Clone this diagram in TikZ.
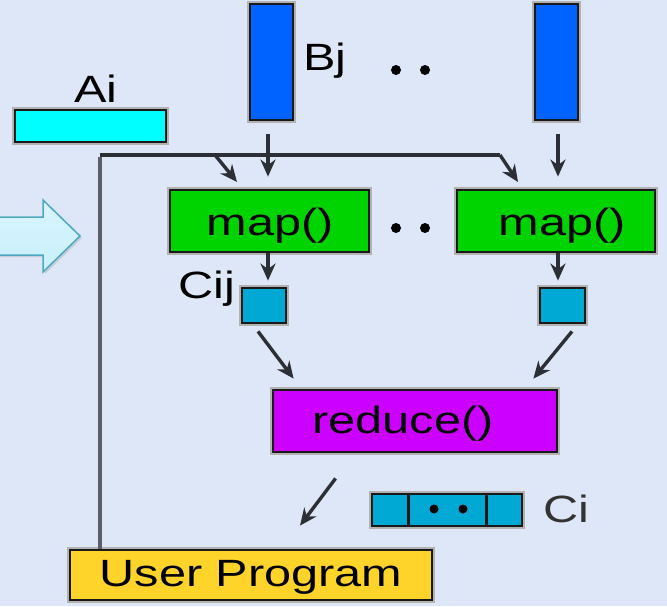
\documentclass[tikz,border=0pt]{standalone}
\usepackage{fontspec}
\newfontfamily\lbl{Liberation Sans}[FakeStretch=1.28]
\usetikzlibrary{arrows.meta,shadows}
\definecolor{bg}{RGB}{222,231,247}
\definecolor{barblue}{RGB}{0,98,255}
\definecolor{barcyan}{RGB}{0,255,255}
\definecolor{mapgreen}{RGB}{0,212,0}
\definecolor{cellblue}{RGB}{0,168,212}
\definecolor{redpurple}{RGB}{204,0,255}
\definecolor{progyellow}{RGB}{255,212,42}
\definecolor{wire}{RGB}{45,47,55}
\definecolor{bus}{RGB}{92,94,104}
\definecolor{hintfill}{RGB}{200,240,252}
\definecolor{hintedge}{RGB}{80,168,192}
\tikzset{
  box/.style={draw=#1, line width=2.8pt, inner sep=0pt,
    preaction={draw=black!30, line width=5.5pt}},
  box/.default={black!90},
  txt/.style={font=\lbl\fontsize{38}{40}\selectfont, inner sep=0pt},
  arr/.style={draw=wire, line width=3.4pt, -{Stealth[length=17pt,width=15pt]}},
  vbus/.style={draw=bus, line width=4.5pt},
  hbus/.style={draw=wire, line width=3.2pt},
  dotmark/.style={circle, fill=black, inner sep=0pt, minimum size=10pt}
}
\begin{document}
\begin{tikzpicture}[x=1pt,y=-1pt]
  % canvas
  \fill[bg] (0,0) rectangle (667,606);
  \useasboundingbox (0,0) rectangle (667,606);

  % hint arrow on the left edge
  \filldraw[draw=hintedge, line width=1.5pt, top color=hintfill!70!white, bottom color=hintfill,
    drop shadow={opacity=0.25, shadow xshift=2pt, shadow yshift=-2pt}]
    (-6,217) -- (43,217) -- (43,200) -- (80,236) -- (43,272) -- (43,255) -- (-6,255) -- cycle;

  % input blocks
  \node[box, fill=barblue, minimum width=43pt, minimum height=116pt] (bj1) at (271.5,62) {};
  \node[box, fill=barblue, minimum width=43pt, minimum height=116pt] (bj2) at (556.5,62) {};
  \node[box, fill=barcyan, minimum width=151pt, minimum height=32pt] (ai) at (90.5,126) {};
  \node[txt, anchor=base west] (bjl) at (303,70) {Bj};
  \node[txt, anchor=base west] (ail) at (74,102) {Ai};
  \node[dotmark] (d1) at (396,70) {};
  \node[dotmark] (d2) at (425,70) {};

  % map stage
  \node[box, fill=mapgreen, minimum width=199pt, minimum height=62pt] (map1) at (269.5,221) {};
  \node[box, fill=mapgreen, minimum width=198pt, minimum height=62pt] (map2) at (556,221) {};
  \node[txt, anchor=base] (map1t) at (270,235) {map()};
  \node[txt, anchor=base] (map2t) at (562,235) {map()};
  \node[dotmark] (d3) at (396,228) {};
  \node[dotmark] (d4) at (425,228) {};

  % partial results
  \node[box, fill=cellblue, minimum width=44pt, minimum height=35pt] (cij1) at (264,305.5) {};
  \node[box, fill=cellblue, minimum width=45pt, minimum height=35pt] (cij2) at (562.5,305.5) {};
  \node[txt, anchor=base west] (cijl) at (178,298) {Cij};

  % reduce stage
  \node[box, fill=redpurple, minimum width=284pt, minimum height=62pt] (red) at (415,421) {};
  \node[txt, anchor=base] (redt) at (403,433) {reduce()};

  % result row
  \node[box, fill=cellblue, minimum width=150pt, minimum height=32pt] (ci) at (447,510) {};
  \draw[black!90, line width=3pt] (408,494) -- (408,526) (486,494) -- (486,526);
  \node[dotmark, minimum size=9pt] (d5) at (434,509) {};
  \node[dotmark, minimum size=9pt] (d6) at (463,509) {};
  \node[txt, anchor=base west, text=black!80] (cil) at (543,522) {Ci};

  % user program
  \node[box, fill=progyellow, minimum width=362pt, minimum height=50pt] (up) at (251,575) {};
  \node[txt, anchor=base] (upt) at (251,586) {User Program};

  % control bus from the user program to the map tasks
  \coordinate (corner) at (100,155);
  \coordinate (bus1) at (215,155);
  \coordinate (bus2) at (500,155);
  \draw[vbus] (corner |- up.north) -- ([yshift=-1.6pt]corner);
  \draw[hbus] (corner) -- (bus2);
  \draw[arr] (bus1) -- ++(22,27);
  \draw[arr] (bus2) -- ++(18,27);

  % data flow
  \draw[arr, shorten <=13pt, shorten >=12pt] ([xshift=-3.5pt]bj1.south) -- ([xshift=-3.5pt]bj1.south |- map1.north);
  \draw[arr, shorten <=13pt, shorten >=12pt] ([xshift=1.5pt]bj2.south) -- ([xshift=1.5pt]bj2.south |- map2.north);
  \draw[arr, shorten >=6pt] ([xshift=-1.5pt]map1.south) -- ([xshift=-1.5pt]map1.south |- cij1.north);
  \draw[arr, shorten >=6pt] ([xshift=2pt]map2.south) -- ([xshift=2pt]map2.south |- cij2.north);
  \draw[arr] ([shift={(-6pt,-7pt)}]cij1.south) -- ([shift={(22pt,10pt)}]red.north west);
  \draw[arr] ([shift={(9.5pt,-7pt)}]cij2.south) -- ([shift={(-25pt,10pt)}]red.north east);
  \draw[arr] ([shift={(64pt,-25pt)}]red.south west) -- ([shift={(49pt,23pt)}]up.north);
\end{tikzpicture}
\end{document}
